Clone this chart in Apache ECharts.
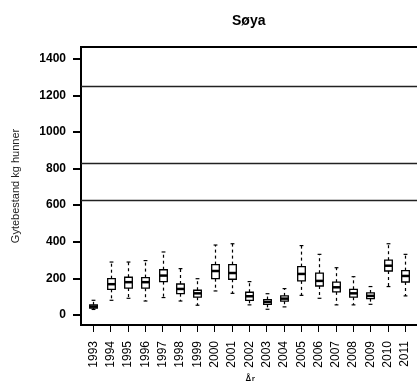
<!DOCTYPE html>
<html>
<head>
<meta charset="utf-8">
<script src="https://cdn.jsdelivr.net/npm/echarts@6/dist/echarts.min.js"></script>
<style>html,body{margin:0;padding:0;background:#fff}#c{width:417px;height:381px}</style>
</head>
<body>
<div id="c"></div>
<script>
// Data (kg hunner)
var years = ['1993','1994','1995','1996','1997','1998','1999','2000','2001','2002','2003','2004','2005','2006','2007','2008','2009','2010','2011'];
var whiskerLow  = [30, 80, 91, 76, 95, 76, 53,131,118, 55, 31, 44,107, 91, 55, 55, 58,155,104];
var lowerQuart  = [38,140,147,146,182,116, 97,198,195, 80, 58, 75,186,158,126, 97, 89,240,180];
var medians     = [46,168,179,179,215,142,118,240,229,102, 71, 89,224,186,151,118,104,269,213];
var upperQuart  = [55,198,206,204,247,169,135,275,275,124, 84,104,264,228,179,140,120,299,242];
var whiskerHigh = [80,289,289,297,344,253,198,382,389,182,116,144,379,331,258,209,155,389,331];
var refLines = [1248, 831, 625];
var yTicks = [0, 200, 400, 600, 800, 1000, 1200, 1400];

var FONT = '"Liberation Sans", Arial, Helvetica, sans-serif';
var boxData = years.map(function (y, i) {
  return [i, whiskerLow[i], lowerQuart[i], medians[i], upperQuart[i], whiskerHigh[i]];
});
var xIdx = years.map(function (y, i) { return i; });

var chart = echarts.init(document.getElementById('c'), null, {renderer: 'canvas'});
chart.setOption({
  animation: false,
  backgroundColor: '#fff',
  title: {
    text: 'Søya', left: 227, top: 9,
    textStyle: {fontFamily: FONT, fontSize: 14, fontWeight: 'bold', color: '#000'}
  },
  grid: {
    left: 81, top: 47, width: 338, height: 278,
    outerBoundsMode: 'none', containLabel: false,
    show: true, borderColor: '#000', borderWidth: 2, backgroundColor: 'transparent'
  },
  xAxis: {
    type: 'value', min: -0.71, max: 18.80,
    axisLine: {show: true, onZero: false, lineStyle: {color: '#000', width: 2}},
    splitLine: {show: false},
    axisTick: {show: true, inside: false, length: 7, lineStyle: {color: '#000', width: 1}, customValues: xIdx},
    axisLabel: {
      customValues: xIdx,
      formatter: function (v) { return years[Math.round(v)]; },
      rotate: 90, margin: 16, fontFamily: FONT, fontSize: 12, color: '#000'
    },
    name: 'År', nameLocation: 'middle', nameGap: 43,
    nameTextStyle: {fontFamily: FONT, fontSize: 10, color: '#000'}
  },
  yAxis: {
    type: 'value', min: -55, max: 1464,
    axisLine: {show: true, onZero: false, lineStyle: {color: '#000', width: 2}},
    splitLine: {show: false},
    axisTick: {show: true, inside: false, length: 8, lineStyle: {color: '#000', width: 2}, customValues: yTicks},
    axisLabel: {
      customValues: yTicks, margin: 15,
      formatter: function (v) { return String(v); },
      fontFamily: FONT, fontSize: 12, fontWeight: 'bold', color: '#000'
    },
    name: 'Gytebestand kg hunner', nameLocation: 'middle', nameGap: 60,
    nameTextStyle: {fontFamily: FONT, fontSize: 11, color: '#222'}
  },
  series: [{
    type: 'custom',
    data: boxData,
    encode: {x: 0, y: [1, 2, 3, 4, 5]},
    renderItem: function (params, api) {
      var x = api.value(0);
      var halfW = api.size([0.44, 0])[0] / 2;
      var capW = halfW / 2;
      var pLow = api.coord([x, api.value(1)]);
      var pQ1 = api.coord([x, api.value(2)]);
      var pMed = api.coord([x, api.value(3)]);
      var pQ3 = api.coord([x, api.value(4)]);
      var pHigh = api.coord([x, api.value(5)]);
      var cx = Math.round(pMed[0]) + 0.5;
      var dash = {stroke: '#000', lineWidth: 1.2, lineDash: [3, 3]};
      var solid = {stroke: '#000', lineWidth: 1.2};
      return {
        type: 'group',
        children: [
          {type: 'line', shape: {x1: cx, y1: pQ3[1], x2: cx, y2: pHigh[1]}, style: dash},
          {type: 'line', shape: {x1: cx, y1: pQ1[1], x2: cx, y2: pLow[1]}, style: dash},
          {type: 'line', shape: {x1: cx - capW, y1: pHigh[1], x2: cx + capW, y2: pHigh[1]}, style: solid},
          {type: 'line', shape: {x1: cx - capW, y1: pLow[1], x2: cx + capW, y2: pLow[1]}, style: solid},
          {type: 'rect', shape: {x: cx - halfW, y: pQ3[1], width: halfW * 2, height: pQ1[1] - pQ3[1]},
            style: {fill: '#fff', stroke: '#000', lineWidth: 1.3}},
          {type: 'line', shape: {x1: cx - halfW, y1: pMed[1], x2: cx + halfW, y2: pMed[1]},
            style: {stroke: '#000', lineWidth: 2.5}}
        ]
      };
    },
    markLine: {
      silent: true, symbol: 'none', label: {show: false},
      lineStyle: {color: '#222', width: 1.3, type: 'solid'},
      data: refLines.map(function (v) { return {yAxis: v}; })
    }
  }]
});
</script>
</body>
</html>
